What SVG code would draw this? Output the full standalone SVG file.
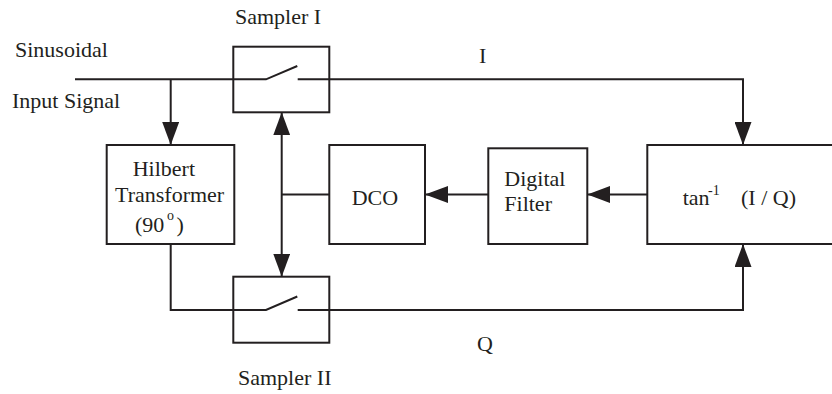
<svg xmlns="http://www.w3.org/2000/svg" width="832" height="394" viewBox="0 0 832 394">
<style>
.box{fill:none;stroke:#231f20;stroke-width:2}
.ln{fill:none;stroke:#231f20;stroke-width:2}
.arr{fill:none;stroke:#231f20;stroke-width:2;marker-end:url(#ah)}
text{font-family:"Liberation Serif","Times New Roman",serif;font-size:22px;fill:#231f20}
.sup{font-size:14px}
</style>
<defs>
<marker id="ah" viewBox="0 0 23 17" refX="23" refY="8.5" markerWidth="23" markerHeight="17" markerUnits="userSpaceOnUse" orient="auto">
<path d="M0,0 L23,8.5 L0,17 z" fill="#231f20"/>
</marker>
<marker id="ahs" viewBox="0 0 23 17" refX="23" refY="8.5" markerWidth="23" markerHeight="17" markerUnits="userSpaceOnUse" orient="auto-start-reverse">
<path d="M0,0 L23,8.5 L0,17 z" fill="#231f20"/>
</marker>
</defs>
<g id="labels">
<text x="15" y="57">Sinusoidal</text>
<text x="12" y="108">Input Signal</text>
<text x="479" y="63">I</text>
<text x="477" y="351">Q</text>
</g>
<g id="sampler1">
<rect class="box" x="233.3" y="46.7" width="96" height="65.6"/>
<text x="235" y="24">Sampler I</text>
</g>
<g id="sampler2">
<rect class="box" x="233.3" y="276.7" width="96" height="66"/>
<text x="238" y="385">Sampler II</text>
</g>
<g id="hilbert">
<rect class="box" x="106.7" y="145" width="127.6" height="99"/>
<text x="132.7" y="176">Hilbert</text>
<text x="115" y="202">Transformer</text>
<text x="135" y="232">(90</text>
<text class="sup" x="167" y="220">o</text>
<text x="176.5" y="232">)</text>
</g>
<g id="dco">
<rect class="box" x="329.3" y="145" width="95.7" height="99"/>
<text x="351.7" y="205">DCO</text>
</g>
<g id="filter">
<rect class="box" x="488.3" y="148.3" width="99" height="95.7"/>
<text x="504.3" y="186">Digital</text>
<text x="504.3" y="211">Filter</text>
</g>
<g id="arctan">
<rect class="box" x="647.3" y="145" width="200" height="99"/>
<text x="682.7" y="205">tan</text>
<text class="sup" x="708" y="195">-1</text>
<text x="741" y="205">(I / Q)</text>
</g>
<g id="connectors">
<path class="ln" d="M75,79.3 H266 L297.3,66"/>
<path class="arr" d="M297.7,79.3 H743 V145"/>
<path class="arr" d="M170.7,79.3 V145"/>
<path class="ln" d="M170.7,244 V310 H266 L297.3,296.5"/>
<path class="arr" d="M297.7,310 H743 V244"/>
<path class="ln" d="M281.7,112.3 V276.7" marker-start="url(#ahs)" marker-end="url(#ah)"/>
<path class="ln" d="M281.7,194.5 H329.3"/>
<path class="arr" d="M488.3,194.5 H425"/>
<path class="arr" d="M647.3,194.5 H587.3"/>
</g>
</svg>
